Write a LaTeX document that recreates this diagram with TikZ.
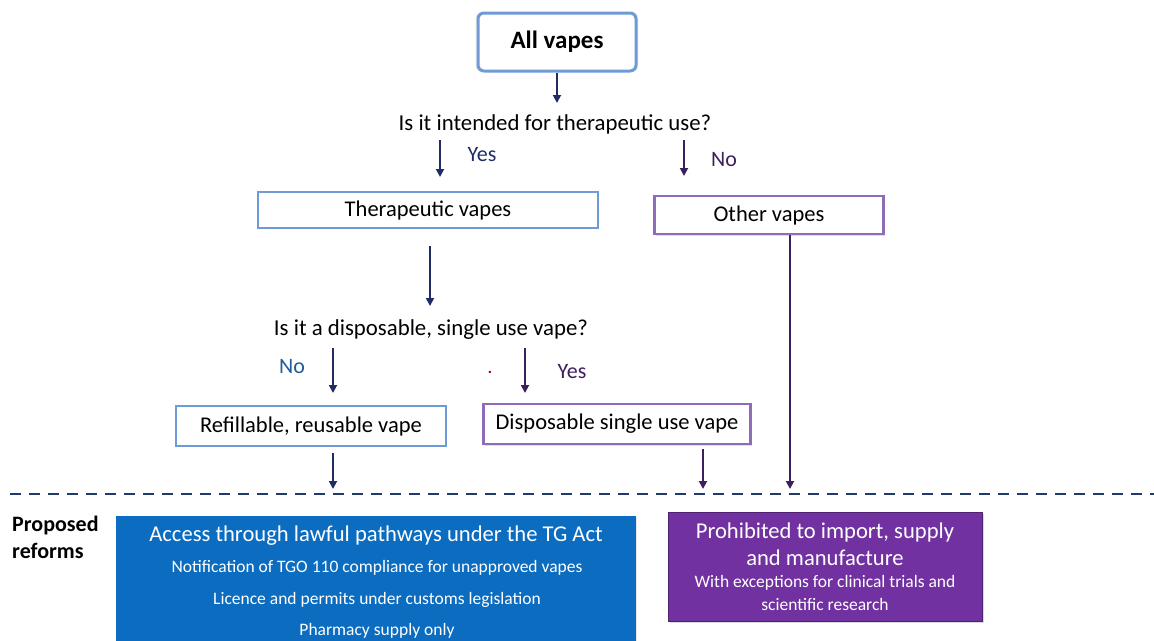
\documentclass[tikz,border=0pt]{standalone}
\usepackage{fontspec}
\setmainfont{Carlito}
\usetikzlibrary{arrows.meta,shadows}
\definecolor{bluebd}{HTML}{6E9BD6}
\definecolor{purpbd}{HTML}{8F6CB8}
\definecolor{navy}{HTML}{1F2C66}
\definecolor{darkpurp}{HTML}{3E1F5E}
\definecolor{bluefill}{HTML}{0B6CC0}
\definecolor{purpfill}{HTML}{7131A1}
\definecolor{nolabel}{HTML}{1F5C99}
\definecolor{dashcol}{HTML}{1F3A6B}
\begin{document}
\begin{tikzpicture}[x=1pt,y=-1pt,
  bluebox/.style={draw=bluebd,line width=2.2pt,fill=white,inner sep=0pt,font=\fontsize{22.5}{26}\selectfont},
  purpbox/.style={draw=purpbd,line width=2.6pt,fill=white,inner sep=0pt,font=\fontsize{22.5}{26}\selectfont,drop shadow={opacity=0.25,shadow xshift=1.5pt,shadow yshift=-1.5pt}},
  question/.style={font=\fontsize{22.8}{26}\selectfont,inner sep=0pt},
  navyarrow/.style={draw=navy,line width=1.8pt,-{Triangle[length=8pt,width=8pt]}},
  purparrow/.style={draw=darkpurp,line width=1.8pt,-{Triangle[length=8pt,width=8pt]}},
  lbl/.style={font=\fontsize{22}{26}\selectfont,inner sep=0pt}
]
\useasboundingbox (0,0) rectangle (1154,640);

% top box
\node[draw=bluebd,line width=3pt,rounded corners=6pt,fill=white,minimum width=158pt,minimum height=58pt,
  font=\bfseries\fontsize{25}{28}\selectfont,inner sep=0pt,
  drop shadow={opacity=0.15,shadow xshift=0pt,shadow yshift=0pt,shadow scale=1.03}] (all) at (557,42) {All vapes};

\node[question] (q1) at (555,124) {Is it intended for therapeutic use?};
\coordinate (q1top) at (557,103);

\coordinate (yesA) at (440,140);
\coordinate (yesB) at (440,177);
\node[lbl,text=navy] (yes1) at (482,155) {Yes};
\coordinate (noA) at (684,140);
\coordinate (noB) at (684,176);
\node[lbl,text=darkpurp] (no1) at (724,160) {No};

\node[bluebox,minimum width=340pt,minimum height=36pt] (thera) at (428,210) {Therapeutic vapes};
\node[purpbox,minimum width=229pt,minimum height=38pt] (other) at (769,215) {Other vapes};

\coordinate (q2top) at (430,306);
\node[question] (q2) at (431,330) {Is it a disposable, single use vape?};

\coordinate (no2A) at (333,348);
\coordinate (no2B) at (333,393);
\node[lbl,text=nolabel] (no2) at (292,367) {No};
\node[text=red!55!black,font=\bfseries\fontsize{16}{18}\selectfont,inner sep=0pt] (dot) at (490,372) {.};
\coordinate (yes2A) at (525,348);
\coordinate (yes2B) at (525,393);
\node[lbl,text=darkpurp] (yes2) at (572,372) {Yes};

\node[bluebox,minimum width=270pt,minimum height=40pt] (refill) at (311,426) {Refillable, reusable vape};
\node[purpbox,minimum width=267pt,minimum height=40pt] (disp) at (617,424) {Disposable single use vape};

\coordinate (e1) at (333,489);
\coordinate (e2) at (703,489);
\coordinate (e3) at (790,489);

% arrows
\draw[navyarrow] (all.south) -- (q1top);
\draw[navyarrow] (yesA) -- (yesB);
\draw[purparrow] (noA) -- (noB);
\draw[navyarrow] (430,246) -- (q2top);
\draw[navyarrow] (no2A) -- (no2B);
\draw[purparrow] (yes2A) -- (yes2B);
\draw[navyarrow] (333,453) -- (e1);
\draw[purparrow] (703,449) -- (e2);
\draw[purparrow] (other.south -| e3) -- (e3);

% dashed divider
\coordinate (dl) at (10,494);
\coordinate (dr) at (1154,494);
\draw[dashcol,line width=2pt,dash pattern=on 11pt off 8pt] (dl) -- (dr);

% proposed reforms
\node[font=\bfseries\fontsize{22}{27}\selectfont,align=left,anchor=north west,inner sep=0pt] (pr) at (12,516) {Proposed\\reforms};

\fill[bluefill,drop shadow={opacity=0.2,shadow xshift=1pt,shadow yshift=-1pt}] (116,516) rectangle (636,645);
\node[text=white,font=\fontsize{22.6}{26}\selectfont,inner sep=0pt] (b1) at (376,536) {Access through lawful pathways under the TG Act};
\node[text=white,font=\fontsize{17.5}{20}\selectfont,inner sep=0pt] (b2) at (377,568) {Notification of TGO 110 compliance for unapproved vapes};
\node[text=white,font=\fontsize{17.5}{20}\selectfont,inner sep=0pt] (b3) at (377,600) {Licence and permits under customs legislation};
\node[text=white,font=\fontsize{17.5}{20}\selectfont,inner sep=0pt] (b4) at (377,631) {Pharmacy supply only};

\node[fill=purpfill,draw=purpfill!70!black,line width=1pt,minimum width=314pt,minimum height=109pt,inner sep=0pt,
  drop shadow={opacity=0.3,shadow xshift=2pt,shadow yshift=-2pt}] (pbox) at (825,566.5) {};
\node[text=white,font=\fontsize{22.6}{26}\selectfont,inner sep=0pt] (p1) at (825,532) {Prohibited to import, supply};
\node[text=white,font=\fontsize{22.6}{26}\selectfont,inner sep=0pt] (p2) at (825,558) {and manufacture};
\node[text=white,font=\fontsize{17.5}{20}\selectfont,inner sep=0pt] (p3) at (825,583) {With exceptions for clinical trials and};
\node[text=white,font=\fontsize{17.5}{20}\selectfont,inner sep=0pt] (p4) at (825,604) {scientific research};
\end{tikzpicture}
\end{document}
